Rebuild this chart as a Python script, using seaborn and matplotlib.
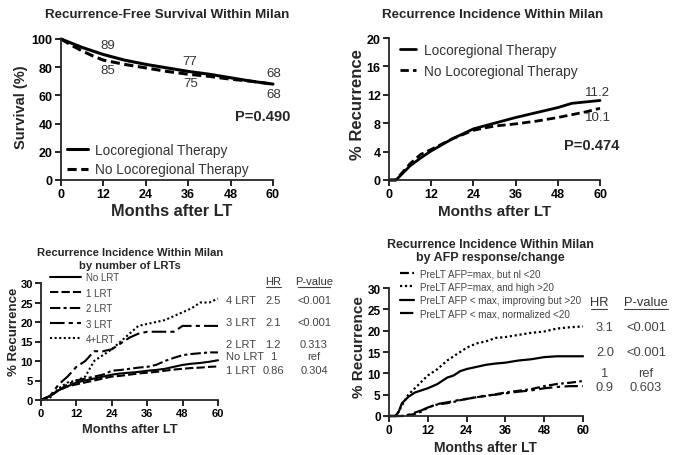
import numpy as np
import pandas as pd
import matplotlib
matplotlib.use("Agg")
import matplotlib.pyplot as plt
from matplotlib.lines import Line2D
import seaborn as sns

# ---------------- data ----------------
months_ticks = [0, 12, 24, 36, 48, 60]

# Panel 1: recurrence-free survival (%)
rfs_months = [0, 3, 6, 9, 12, 18, 24, 30, 36, 42, 48, 54, 60]
rfs_lrt = [100, 97, 94, 91.5, 89, 85, 82, 79.5, 77, 75, 72.5, 70, 68]
rfs_nolrt = [100, 95.5, 91.5, 88, 85, 82, 79.5, 77, 75, 73.5, 71.5, 70, 68]

# Panel 2: recurrence incidence (%)
inc_months = [0, 2, 3, 6, 9, 12, 18, 24, 30, 36, 42, 48, 52, 56, 60]
inc_lrt = [0, 0, 0.5, 2, 3.1, 4.1, 5.8, 7.2, 8.0, 8.8, 9.5, 10.2, 10.8, 11.0, 11.2]
inc_nolrt = [0, 0, 0.6, 2.3, 3.6, 4.3, 5.8, 7.0, 7.6, 7.9, 8.3, 8.8, 9.2, 9.6, 10.1]

# Panel 3: by number of LRTs
n_months = [0, 3, 6, 9, 12, 15, 18, 21, 24, 27, 30, 33, 36, 39, 42, 45, 48, 51, 54, 57, 60]
n_lrt0 = [0, 1, 2.5, 3.5, 4.5, 5, 5.5, 6, 6.5, 6.8, 7, 7.2, 7.5, 7.7, 8, 8.5, 9, 9.3, 9.5, 9.8, 10.2]
n_lrt1 = [0, 1, 2.5, 3.5, 4, 4.5, 5, 5.5, 6, 6.2, 6.5, 6.8, 7, 7.2, 7.5, 7.8, 8, 8.2, 8.3, 8.5, 8.6]
n_lrt2 = [0, 1, 2.5, 4, 5, 5.5, 6, 6.5, 7.5, 7.7, 8, 8.3, 8.5, 9, 10, 10.8, 11.5, 11.8, 12, 12.2, 12.2]
n_lrt3 = [0, 1, 4, 6, 8.5, 10, 12.5, 12.5, 13, 14.5, 16, 17, 17.5, 17.5, 17.5, 17.5, 19, 19, 19, 19, 19]
n_lrt4 = [0, 0.5, 3, 4.5, 5, 6, 10, 11.5, 13, 15, 17, 19, 19.5, 20, 20.5, 21.5, 22.5, 23.5, 25, 25, 26]
n_labels = ["No LRT", "1 LRT", "2 LRT", "3 LRT", "4+LRT"]
n_rows = ["4 LRT", "3 LRT", "2 LRT", "No LRT", "1 LRT"]
n_hr = ["2.5", "2.1", "1.2", "1", "0.86"]
n_p = ["<0.001", "<0.001", "0.313", "ref", "0.304"]

# Panel 4: by AFP response/change
a_months = [0, 2, 3, 4, 6, 8, 10, 12, 15, 18, 20, 22, 24, 27, 30, 33, 36, 40, 44, 48, 52, 56, 60]
a_nl = [0, 0, 0, 0, 0.2, 0.5, 1, 2, 2.7, 3, 3.3, 3.7, 4, 4.4, 4.7, 5.1, 5.5, 5.9, 6.3, 7, 7.5, 7.8, 8.2]
a_high = [0, 0, 1, 2.5, 5, 6.5, 8, 9.5, 11, 13, 14, 15, 16, 17, 17.5, 18.3, 18.5, 19, 19.5, 19.8, 20.5, 20.8, 21]
a_impr = [0, 0, 1, 3, 4.5, 5.5, 6, 6.5, 7.5, 9, 9.5, 10.5, 11, 11.5, 12, 12.3, 12.5, 13, 13.3, 13.8, 14, 14, 14]
a_norm = [0, 0, 0, 0, 0.3, 0.8, 1.3, 2, 2.8, 3.2, 3.5, 3.8, 4, 4.4, 4.8, 5, 5.3, 5.7, 6, 6.5, 6.8, 7, 7]
a_labels = ["PreLT AFP=max, but nl <20", "PreLT AFP=max, and high >20",
            "PreLT AFP < max, improving but >20", "PreLT AFP < max, normalized <20"]
a_hr = ["3.1", "2.0", "1", "0.9"]
a_p = ["<0.001", "<0.001", "ref", "0.603"]

# ---------------- style ----------------
sns.set_theme(style="ticks")
plt.rcParams["font.family"] = ["Liberation Sans", "DejaVu Sans"]
plt.rcParams["axes.linewidth"] = 1.3

W, H = 673, 456
fig = plt.figure(figsize=(W / 100, H / 100), dpi=100)
fig.patch.set_facecolor("white")

def ftxt(x, y, s, **kw):
    kw.setdefault("ha", "center")
    kw.setdefault("va", "center")
    return fig.text(x / W, 1 - y / H, s, **kw)

def uline(x0, x1, y):
    fig.add_artist(Line2D([x0 / W, x1 / W], [1 - y / H, 1 - y / H],
                          transform=fig.transFigure, color="#444444", lw=0.8))

def style_ax(ax, yticks, ylim, tsize):
    ax.set_xlim(0, 60)
    ax.set_ylim(*ylim)
    ax.set_xticks(months_ticks)
    ax.set_yticks(yticks)
    ax.tick_params(axis="both", length=4, width=1.2, pad=2, labelsize=tsize, colors="black")
    for lab in ax.get_xticklabels() + ax.get_yticklabels():
        lab.set_fontweight("bold")
    sns.despine(ax=ax)
    ax.set_xlabel("")
    ax.set_ylabel("")
    ax.set_facecolor("none")

def line(ax, x, y, ls, lw, label=None):
    sns.lineplot(x=x, y=y, ax=ax, color="black", linestyle=ls, linewidth=lw,
                 estimator=None, label=label, clip_on=False)

# ---------------- Panel 1 ----------------
ax1 = fig.add_axes([61 / W, 1 - 181 / H, 212 / W, 141 / H])
line(ax1, rfs_months, rfs_lrt, "-", 2.2, "Locoregional Therapy")
line(ax1, rfs_months, rfs_nolrt, (0, (3, 1.5)), 2.2, "No Locoregional Therapy")
style_ax(ax1, [0, 20, 40, 60, 80, 100], (0, 100), 9)
ax1.legend(loc="upper left", bbox_to_anchor=(0.03, 0.265), frameon=False, fontsize=9.8,
           handlelength=1.5, handletextpad=0.5, labelspacing=0.42, borderpad=0,
           borderaxespad=0, labelcolor="#333333")
for (xx, yy, s) in [(13.3, 95.5, "89"), (13.3, 78, "85"), (36.5, 84.5, "77"),
                    (36.8, 69, "75"), (60.3, 76, "68"), (60.3, 61, "68")]:
    ax1.text(xx, yy, s, ha="center", va="center", fontsize=9.5, color="#333333", clip_on=False)
ax1.text(64.8, 45.5, "P=0.490", ha="right", va="center", fontsize=10.5, fontweight="bold")
ftxt(167, 15, "Recurrence-Free Survival Within Milan", fontsize=9.6, fontweight="bold")
ftxt(172, 212, "Months after LT", fontsize=11.8, fontweight="bold")
ftxt(21, 107, "Survival (%)", fontsize=10.5, fontweight="bold", rotation=90)

# ---------------- Panel 2 ----------------
ax2 = fig.add_axes([389 / W, 1 - 181 / H, 211 / W, 142 / H])
line(ax2, inc_months, inc_lrt, "-", 2.0, "Locoregional Therapy")
line(ax2, inc_months, inc_nolrt, (0, (3, 1.5)), 2.0, "No Locoregional Therapy")
style_ax(ax2, [0, 4, 8, 12, 16, 20], (0, 20), 9)
ax2.legend(loc="upper left", bbox_to_anchor=(0.05, 0.965), frameon=False, fontsize=9.8,
           handlelength=1.2, handletextpad=0.6, labelspacing=0.5, borderpad=0,
           borderaxespad=0, labelcolor="#333333")
ax2.text(59.4, 12.4, "11.2", ha="center", va="center", fontsize=9.5, color="#333333", clip_on=False)
ax2.text(59.4, 8.9, "10.1", ha="center", va="center", fontsize=9.5, color="#333333", clip_on=False)
ax2.text(65.6, 4.9, "P=0.474", ha="right", va="center", fontsize=10.5, fontweight="bold")
ftxt(493, 15, "Recurrence Incidence Within Milan", fontsize=9.6, fontweight="bold")
ftxt(495, 212, "Months after LT", fontsize=11, fontweight="bold")
ftxt(358, 105, "% Recurrence", fontsize=12, fontweight="bold", rotation=90)

# ---------------- Panel 3 ----------------
ax3 = fig.add_axes([41 / W, 1 - 401 / H, 177 / W, 117 / H])
n_series = [n_lrt0, n_lrt1, n_lrt2, n_lrt3, n_lrt4]
n_styles = ["-", (0, (4, 1.5)), (0, (5, 1.5, 1.5, 1.5)), (0, (7, 2, 2, 2)), (0, (1, 1.2))]
for vals, ls, lab in zip(n_series, n_styles, n_labels):
    line(ax3, n_months, vals, ls, 1.5, lab)
style_ax(ax3, [0, 5, 10, 15, 20, 25, 30], (0, 30), 8)
ax3.legend(loc="upper left", bbox_to_anchor=(0.05, 1.09), frameon=False, fontsize=7,
           handlelength=3.2, handletextpad=0.5, labelspacing=0.55, borderpad=0,
           borderaxespad=0, labelcolor="#444444")
ftxt(130, 253, "Recurrence Incidence Within Milan", fontsize=8.1, fontweight="bold")
ftxt(130, 266, "by number of LRTs", fontsize=8.1, fontweight="bold")
ftxt(130, 430, "Months after LT", fontsize=9.3, fontweight="bold")
ftxt(14, 332, "% Recurrence", fontsize=9.5, fontweight="bold", rotation=90)
ftxt(273, 282, "HR", fontsize=8, color="#333333")
ftxt(314, 282, "P-value", fontsize=8, color="#333333")
uline(266, 281, 288)
uline(298, 330, 288)
for yy, lab, hr, p in zip([301, 323, 345, 357, 371], n_rows, n_hr, n_p):
    ftxt(226, yy, lab, fontsize=8, color="#444444", ha="left")
    ftxt(273, yy, hr, fontsize=8, color="#444444")
    ftxt(314, yy, p, fontsize=8, color="#444444")

# ---------------- Panel 4 ----------------
ax4 = fig.add_axes([389 / W, 1 - 417 / H, 194 / W, 128 / H])
a_series = [a_nl, a_high, a_impr, a_norm]
a_styles = [(0, (4, 1.5, 1.2, 1.5)), (0, (1, 1.2)), "-", (0, (6, 2, 1.5, 2))]
for vals, ls, lab in zip(a_series, a_styles, a_labels):
    line(ax4, a_months, vals, ls, 1.6, lab)
style_ax(ax4, [0, 5, 10, 15, 20, 25, 30], (0, 30), 8.5)
ax4.legend(loc="upper left", bbox_to_anchor=(0.055, 1.155), frameon=False, fontsize=7.1,
           handlelength=1.5, handletextpad=0.55, labelspacing=0.36, borderpad=0,
           borderaxespad=0, labelcolor="#444444")
ftxt(490, 245, "Recurrence Incidence Within Milan", fontsize=9, fontweight="bold")
ftxt(490, 258, "by AFP response/change", fontsize=9, fontweight="bold")
ftxt(485, 448, "Months after LT", fontsize=10, fontweight="bold")
ftxt(359, 347, "% Recurrence", fontsize=11, fontweight="bold", rotation=90)
ftxt(599, 303, "HR", fontsize=9.3, color="#333333")
ftxt(646, 303, "P-value", fontsize=9.3, color="#333333")
uline(591, 607, 310)
uline(624, 668, 310)
for yy, hr, p in zip([328, 353, 374, 388], a_hr, a_p):
    ftxt(605, yy, hr, fontsize=9.3, color="#444444")
    ftxt(646, yy, p, fontsize=9.3, color="#444444")

fig.savefig("out.png", dpi=100, facecolor="white")
